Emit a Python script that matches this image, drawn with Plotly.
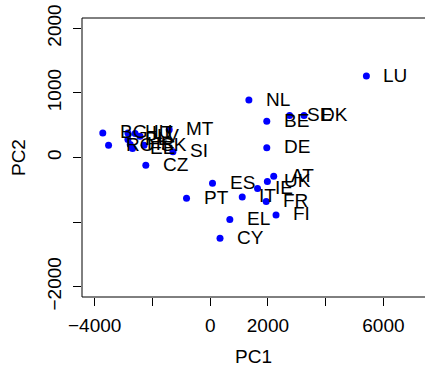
import plotly.graph_objects as go

countries = ["LU", "NL", "BE", "SE", "DK", "DE", "AT", "UK", "IE", "IT", "FR", "FI",
             "ES", "PT", "EL", "CY", "CZ", "SI", "MT", "BG", "RO", "HU", "LT", "LV",
             "EE", "PL", "HR", "SK"]
pc1 = [5410, 1340, 1960, 2750, 3250, 1960, 2200, 1980, 1640, 1110, 1940, 2280,
       80, -820, 680, 340, -2230, -1290, -1420, -3720, -3520, -2850, -2600, -2430,
       -2690, -2850, -2770, -2290]
pc2 = [1260, 890, 560, 650, 650, 150, -290, -370, -480, -610, -680, -890,
       -400, -630, -960, -1250, -120, 90, 430, 380, 190, 380, 370, 330,
       140, 280, 200, 190]

x_ticks = [-4000, -2000, 0, 2000, 4000, 6000]
x_tick_labels = ["\u22124000", "", "0", "2000", "", "6000"]
y_ticks = [-2000, -1000, 0, 1000, 2000]
y_tick_labels = ["\u22122000", "", "0", "1000", "2000"]

FONT = "Liberation Sans, Arial, sans-serif"
FS = 19

fig = go.Figure()
fig.add_trace(go.Scatter(
    x=pc1, y=pc2, mode="markers",
    marker=dict(color="#0000FF", size=7, line=dict(width=0)),
    hoverinfo="skip", showlegend=False,
))

for c, xv, yv in zip(countries, pc1, pc2):
    fig.add_annotation(x=xv, y=yv, text=c, showarrow=False, xanchor="left",
                       yanchor="middle", xshift=15, yshift=1,
                       font=dict(family=FONT, size=FS, color="black"))

# axis titles
fig.add_annotation(x=0.5, y=-0.215, xref="paper", yref="paper", text="PC1",
                   showarrow=False, xanchor="center", yanchor="middle",
                   font=dict(family=FONT, size=FS, color="black"))
fig.add_annotation(x=-0.185, y=0.5, xref="paper", yref="paper", text="PC2",
                   showarrow=False, textangle=-90, xanchor="center", yanchor="middle",
                   font=dict(family=FONT, size=FS, color="black"))

# box: left, top, bottom (right edge falls outside the picture)
for x0, y0, x1, y1 in [(0, 0, 0, 1), (0, 1, 1, 1), (0, 0, 1, 0)]:
    fig.add_shape(type="line", xref="paper", yref="paper", x0=x0, y0=y0, x1=x1, y1=y1,
                  line=dict(color="black", width=1))

fig.update_layout(
    width=425, height=369,
    margin=dict(l=82, r=0, t=18, b=72),
    plot_bgcolor="white", paper_bgcolor="white",
    font=dict(family=FONT, size=FS, color="black"),
    xaxis=dict(range=[-4440, 7440], tickvals=x_ticks, ticktext=x_tick_labels,
               showgrid=False, zeroline=False, showline=False,
               ticks="outside", ticklen=8, tickwidth=1, tickcolor="black",
               tickfont=dict(family=FONT, size=FS, color="black"),
               ticklabelstandoff=3),
    yaxis=dict(range=[-2160, 2160], tickvals=y_ticks, ticktext=y_tick_labels,
               showgrid=False, zeroline=False, showline=False,
               ticks="outside", ticklen=8, tickwidth=1, tickcolor="black",
               tickangle=-90,
               tickfont=dict(family=FONT, size=FS, color="black"),
               ticklabelstandoff=4),
)

fig.write_html("out.html")
